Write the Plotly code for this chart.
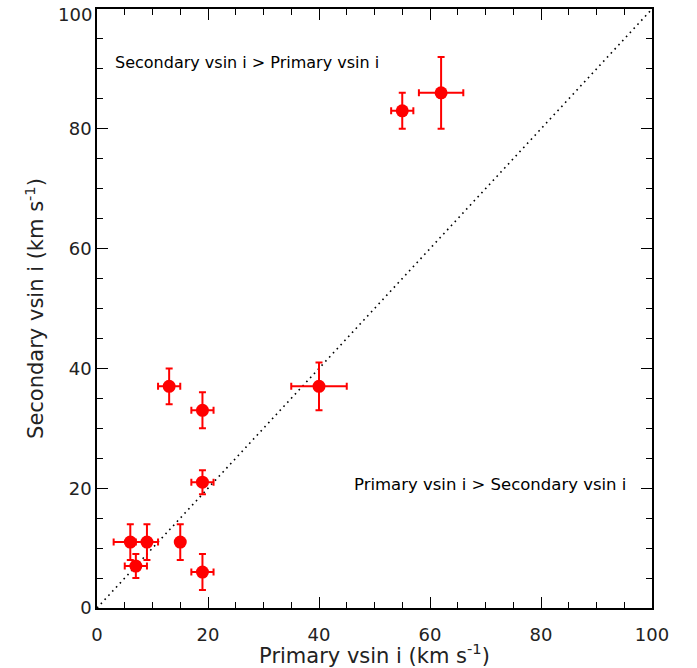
import plotly.graph_objects as go

# Data
primary = [6, 9, 15, 7, 19, 19, 19, 13, 40, 55, 62]
secondary = [11, 11, 11, 7, 6, 21, 33, 37, 37, 83, 86]
primary_err = [3, 2, 0, 2, 2, 2, 2, 2, 5, 2, 4]
secondary_err = [3, 3, 3, 2, 3, 2, 3, 3, 4, 3, 6]

tick_vals = [0, 20, 40, 60, 80, 100]
x_tick_text = ["0", "20", "40", "60", "80", "100"]
# the top y label is drawn separately, nudged down as in the reference
y_tick_text = ["0", "20", "40", "60", "80", ""]
y_top_label = "100"

label_upper = "Secondary vsin i > Primary vsin i"
label_lower = "Primary vsin i > Secondary vsin i"
x_title = "Primary vsin i (km s<sup>-1</sup>)"
y_title = "Secondary vsin i (km s<sup>-1</sup>)"
font_family = "DejaVu Sans"

fig = go.Figure()

fig.add_trace(go.Scatter(
    x=[0, 100], y=[0, 100], mode="lines",
    line=dict(color="black", width=1.6, dash="1.6px,4px"),
    hoverinfo="skip", showlegend=False,
))

fig.add_trace(go.Scatter(
    x=primary, y=secondary, mode="markers",
    marker=dict(color="red", size=13, line=dict(width=0)),
    error_x=dict(type="data", array=primary_err, color="red", thickness=2, width=3.5),
    error_y=dict(type="data", array=secondary_err, color="red", thickness=2, width=3.5),
    showlegend=False,
))

fig.add_annotation(x=2.8, y=91, text=label_upper, showarrow=False,
                   xanchor="left", yanchor="middle",
                   font=dict(family=font_family, size=16, color="black"))
fig.add_annotation(x=46, y=20.7, text=label_lower, showarrow=False,
                   xanchor="left", yanchor="middle",
                   font=dict(family=font_family, size=16.5, color="black"))
fig.add_annotation(x=0, xref="paper", y=1, yref="paper", text=y_top_label,
                   showarrow=False, xanchor="right", yanchor="middle",
                   xshift=-3, yshift=-5,
                   font=dict(family=font_family, size=18, color="#222"))

axis_common = dict(
    range=[0, 100], tickmode="array", tickvals=tick_vals, automargin=False,
    ticklabeloverflow="allow",
    ticks="inside", ticklen=11, tickwidth=1.3, tickcolor="black",
    minor=dict(ticks="inside", dtick=5, tick0=0, ticklen=6, tickwidth=1.1, tickcolor="black", showgrid=False),
    showline=True, linecolor="black", linewidth=1.5, mirror="ticks",
    showgrid=False, zeroline=False,
    tickfont=dict(family=font_family, size=18, color="#222"),
    title_font=dict(family=font_family, size=21, color="#222"),
)

fig.update_xaxes(title_text=x_title, title_standoff=1, ticklabelstandoff=10,
                 ticktext=x_tick_text, **axis_common)
fig.update_yaxes(title_text=y_title, title_standoff=19,
                 ticktext=y_tick_text, **axis_common)

fig.update_layout(
    width=697, height=668,
    margin=dict(l=97, r=45, t=9, b=60, autoexpand=False),
    plot_bgcolor="white", paper_bgcolor="white",
)

fig.write_html("out.html")
